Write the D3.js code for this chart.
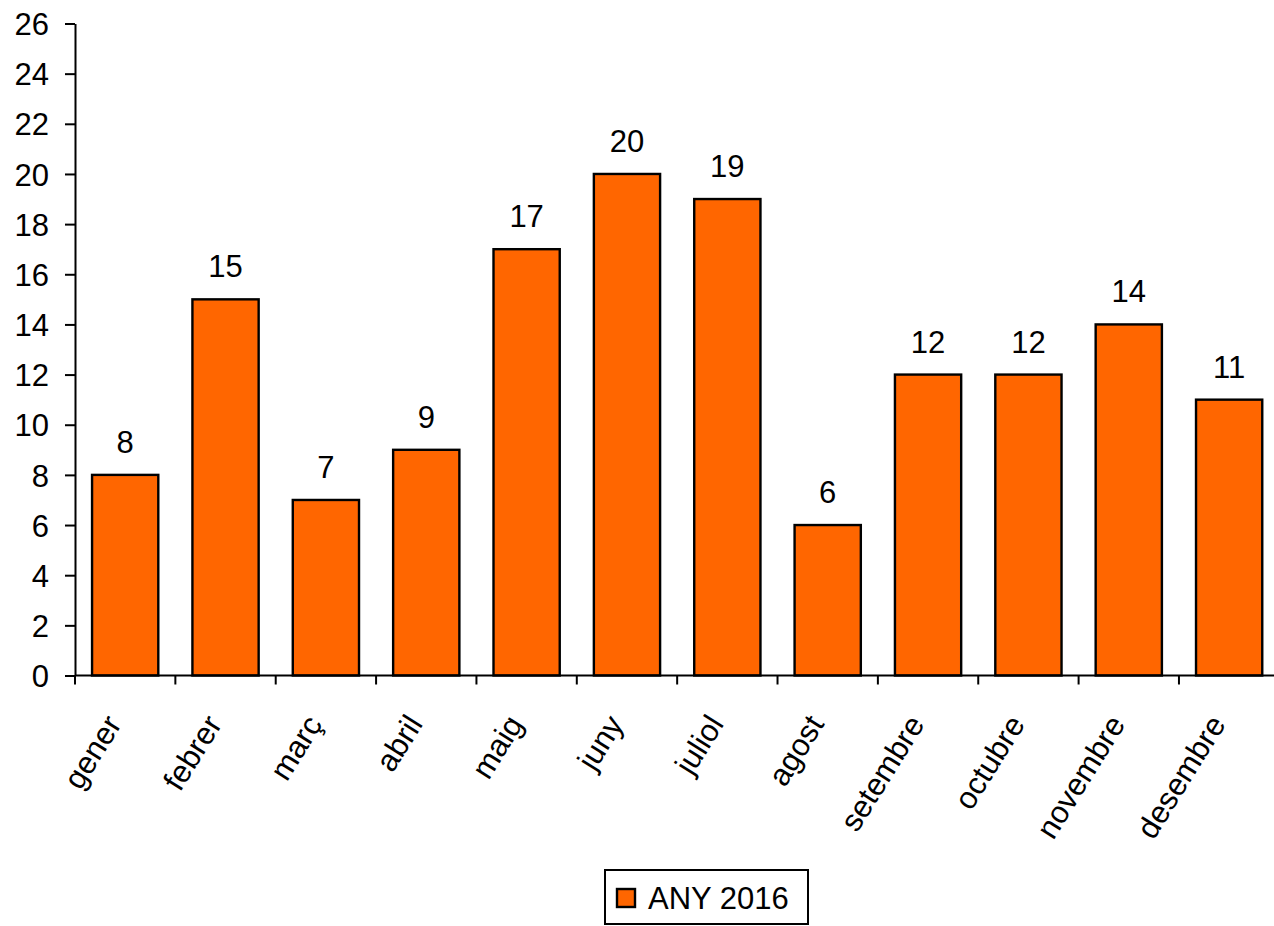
<!DOCTYPE html>
<html lang="ca">
<head>
    <meta charset="UTF-8">
    <title>ANY 2016</title>
    <script src="https://d3js.org/d3.v7.min.js"></script>
    <style>
        body { margin: 0; background: white; }
        svg { display: block; font-family: "Liberation Sans", Arial, sans-serif; }
        .bar { fill: #ff6600; stroke: #000; stroke-width: 2.4; }
        .axis path, .axis line { stroke: #000; stroke-width: 2; }
        .axis text { font-size: 31px; fill: #000; }
        .value-label { font-size: 31px; fill: #000; text-anchor: middle; }
    </style>
</head>
<body>
    <svg width="1274" height="926"></svg>
    <script>
        const months = ["gener", "febrer", "març", "abril", "maig", "juny",
                        "juliol", "agost", "setembre", "octubre", "novembre", "desembre"];
        const values = [8, 15, 7, 9, 17, 20, 19, 6, 12, 12, 14, 11];
        const yTicks = d3.range(0, 27, 2);
        const seriesName = "ANY 2016";

        const svg = d3.select("svg");
        const plotLeft = 75, plotTop = 23.5, plotBottom = 675.5;
        const step = 100.36;

        const x = d3.scaleBand().domain(months)
            .range([plotLeft, plotLeft + step * months.length])
            .paddingInner(0.34).paddingOuter(0.17);
        const y = d3.scaleLinear().domain([0, 26]).range([plotBottom, plotTop]);

        // y axis
        const yAxis = svg.append("g")
            .attr("class", "axis")
            .attr("transform", `translate(${plotLeft},0)`)
            .call(d3.axisLeft(y).tickValues(yTicks).tickSize(10).tickSizeOuter(0).tickPadding(16));
        yAxis.selectAll("text").attr("dy", "0.36em");

        // bars
        svg.selectAll(".bar").data(values).enter().append("rect")
            .attr("class", "bar")
            .attr("x", (d, i) => x(months[i]))
            .attr("y", d => y(d))
            .attr("width", x.bandwidth())
            .attr("height", d => y(0) - y(d));

        // x axis (ticks between categories)
        const xa = svg.append("g").attr("class", "axis");
        xa.append("line")
            .attr("x1", plotLeft).attr("x2", plotLeft + step * months.length)
            .attr("y1", plotBottom).attr("y2", plotBottom);
        xa.selectAll(".tk").data(d3.range(months.length + 1)).enter().append("line")
            .attr("x1", i => plotLeft + i * step).attr("x2", i => plotLeft + i * step)
            .attr("y1", plotBottom).attr("y2", plotBottom + 9);

        xa.selectAll(".lbl").data(months).enter().append("text")
            .attr("transform", d => `translate(${x(d) + x.bandwidth() / 2 - 21},${plotBottom + 37}) rotate(-58)`)
            .attr("text-anchor", "end")
            .attr("dy", "0.7em")
            .text(d => d);

        // value labels
        svg.selectAll(".value-label").data(values).enter().append("text")
            .attr("class", "value-label")
            .attr("x", (d, i) => x(months[i]) + x.bandwidth() / 2)
            .attr("y", d => y(d) - 22)
            .text(d => d);

        // legend
        const lg = svg.append("g");
        lg.append("rect")
            .attr("x", 605).attr("y", 870).attr("width", 203).attr("height", 54)
            .attr("fill", "#fff").attr("stroke", "#000").attr("stroke-width", 2);
        lg.append("rect")
            .attr("x", 617).attr("y", 889).attr("width", 18).attr("height", 18)
            .attr("class", "bar");
        lg.append("text")
            .attr("x", 648).attr("y", 909)
            .attr("font-size", 31)
            .text(seriesName);
    </script>
</body>
</html>
